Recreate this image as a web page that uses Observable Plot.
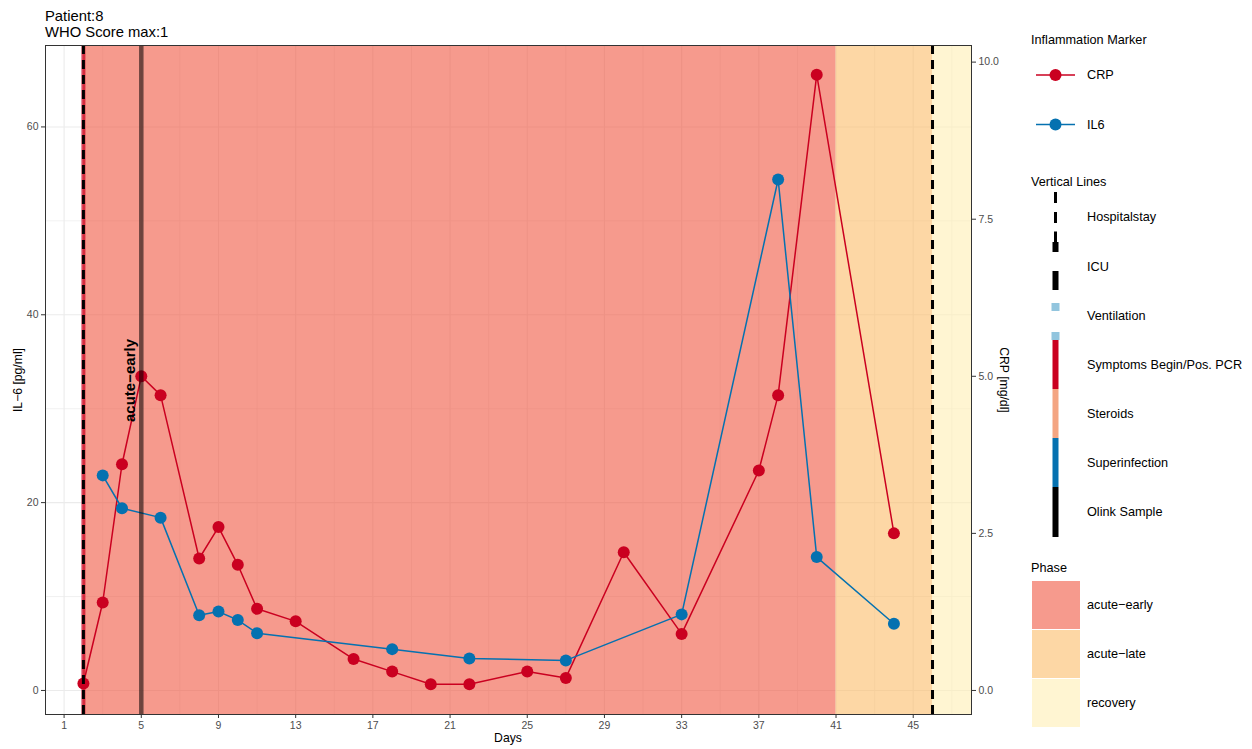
<!DOCTYPE html>
<html><head><meta charset="utf-8">
<script src="https://cdn.jsdelivr.net/npm/d3@7"></script>
<script src="https://cdn.jsdelivr.net/npm/@observablehq/plot@0.6"></script>
<style>
body{margin:0;background:#fff;}
#wrap{position:relative;width:1252px;height:749px;font-family:"Liberation Sans",Arial,Helvetica,sans-serif;background:#fff;overflow:hidden;}
#wrap svg{position:absolute;left:0;top:0;}
</style></head><body><div id="wrap"></div>
<script>
// ---- data ----
const crpDays   = [2, 3, 4, 5, 6, 8, 9, 10, 11, 13, 16, 18, 20, 22, 25, 27, 30, 33, 37, 38, 40, 44];
const crpValues = [0.11, 1.40, 3.60, 5.00, 4.70, 2.10, 2.60, 2.00, 1.30, 1.10, 0.50, 0.30, 0.10, 0.10, 0.30, 0.20, 2.20, 0.90, 3.50, 4.70, 9.80, 2.50];
const il6Days   = [3, 4, 6, 8, 9, 10, 11, 18, 22, 27, 33, 38, 40, 44];
const il6Values = [22.9, 19.4, 18.4, 8.0, 8.4, 7.5, 6.1, 4.4, 3.4, 3.2, 8.1, 54.4, 14.2, 7.1];
const phaseNames  = ["acute−early", "acute−late", "recovery"];
const phaseStart  = [2, 41, 46];
const phaseEnd    = [41, 46, 48.02];
const phaseColors = ["#F05741", "#FCBC69", "#FFEEB4"];
const symptomDays = [2];
const hospitalDays = [2, 46];
const olinkDays = [5];
const phaseLabel = [{day: 4.45, value: 33.0, text: "acute−early"}];
const xTicks = [1, 5, 9, 13, 17, 21, 25, 29, 33, 37, 41, 45];
const xMinor = [3, 7, 11, 15, 19, 23, 27, 31, 35, 39, 43, 47];
const yTicks = [0, 20, 40, 60];
const yMinor = [10, 30, 50];
const crpTicks = [0, 2.5, 5, 7.5, 10];
const CRP_SCALE = 6.69; // CRP drawn on IL-6 axis
const xDomain = [0.036, 48.02];
const yDomain = [-2.56, 68.67];

const crpData = crpDays.map((d, i) => ({day: d, value: crpValues[i] * CRP_SCALE}));
const il6Data = il6Days.map((d, i) => ({day: d, value: il6Values[i]}));
const phases = phaseNames.map((n, i) => ({name: n, start: phaseStart[i], end: phaseEnd[i], color: phaseColors[i]}));

const RED = "#CA0020", BLUE = "#0571B0";
const FONT = '"Liberation Sans", Arial, Helvetica, sans-serif';

const chart = Plot.plot({
  width: 1020, height: 749,
  marginTop: 45, marginBottom: 35, marginLeft: 45, marginRight: 49,
  style: {fontFamily: FONT, fontSize: "10.5px", background: "transparent"},
  x: {domain: xDomain},
  y: {domain: yDomain},
  color: {type: "identity"},
  marks: [
    Plot.ruleX(xTicks, {stroke: "#ebebeb", strokeWidth: 1.1}),
    Plot.ruleX(xMinor, {stroke: "#ebebeb", strokeWidth: 0.7}),
    Plot.ruleY(yTicks, {stroke: "#ebebeb", strokeWidth: 1.1}),
    Plot.ruleY(yMinor, {stroke: "#ebebeb", strokeWidth: 0.7}),
    Plot.rect(phases, {x1: "start", x2: "end", fill: "color", fillOpacity: 0.6}),
    Plot.line(crpData, {x: "day", y: "value", stroke: RED, strokeWidth: 1.5}),
    Plot.dot(crpData, {x: "day", y: "value", r: 6, fill: RED}),
    Plot.line(il6Data, {x: "day", y: "value", stroke: BLUE, strokeWidth: 1.5}),
    Plot.dot(il6Data, {x: "day", y: "value", r: 6, fill: BLUE}),
    Plot.ruleX(symptomDays, {stroke: RED, strokeOpacity: 0.72, strokeWidth: 4}),
    Plot.ruleX(hospitalDays, {stroke: "black", strokeWidth: 3, strokeDasharray: "9,6"}),
    Plot.ruleX(olinkDays, {stroke: "black", strokeOpacity: 0.55, strokeWidth: 4.5}),
    Plot.text(phaseLabel, {x: "day", y: "value", text: "text", rotate: -90, fontWeight: "bold", fontSize: 15, fill: "black"}),
    Plot.frame({stroke: "#333", strokeWidth: 1}),
    Plot.axisX(xTicks, {anchor: "bottom", tickSize: 4, tickPadding: 3, label: null, stroke: "#333", fill: "#4d4d4d"}),
    Plot.axisY(yTicks, {anchor: "left", tickSize: 4, tickPadding: 3, label: null, stroke: "#333", fill: "#4d4d4d"}),
    Plot.axisY(crpTicks.map(v => v * CRP_SCALE), {anchor: "right", tickSize: 4, tickPadding: 3, label: null, stroke: "#333", fill: "#4d4d4d",
      tickFormat: d => (d / CRP_SCALE).toFixed(1)})
  ]
});
const wrap = document.getElementById("wrap");
wrap.appendChild(chart);

// ---- overlay: titles, axis titles, legends ----
const svg = d3.create("svg").attr("width", 1252).attr("height", 749)
  .style("font-family", FONT).style("pointer-events", "none");
const T = (x, y, s, size, opts = {}) => {
  const t = svg.append("text").attr("x", x).attr("y", y).text(s)
    .attr("font-size", size).attr("fill", opts.fill || "black");
  if (opts.anchor) t.attr("text-anchor", opts.anchor);
  if (opts.baseline) t.attr("dominant-baseline", opts.baseline);
  if (opts.transform) t.attr("transform", opts.transform).attr("x", 0).attr("y", 0);
  return t;
};
T(45, 20.5, "Patient:8", 14.8);
T(45, 36.5, "WHO Score max:1", 14.8);
T(508, 742, "Days", 12.2, {anchor: "middle"});
T(0, 0, "IL−6 [pg/ml]", 12.2, {anchor: "middle", transform: "translate(22,380) rotate(-90)"});
T(0, 0, "CRP [mg/dl]", 12.2, {anchor: "middle", transform: "translate(1000,380) rotate(90)"});

const LF = 12.7;
// Inflammation Marker
T(1031, 43.5, "Inflammation Marker", LF);
[[75, RED, "CRP"], [124.5, BLUE, "IL6"]].forEach(([y, c, s]) => {
  svg.append("line").attr("x1", 1036).attr("x2", 1075).attr("y1", y).attr("y2", y).attr("stroke", c).attr("stroke-width", 1.5);
  svg.append("circle").attr("cx", 1055.5).attr("cy", y).attr("r", 6).attr("fill", c);
  T(1087, y, s, LF, {baseline: "central"});
});
// Vertical Lines
T(1031, 185.5, "Vertical Lines", LF);
const seg = (y1, y2, w, c) => svg.append("rect").attr("x", 1055.5 - w / 2).attr("width", w)
  .attr("y", y1).attr("height", y2 - y1).attr("fill", c);
seg(192, 203, 3, "black"); seg(212, 223, 3, "black"); seg(231.5, 242, 3, "black");
seg(242, 252, 6, "black"); seg(271, 290, 6, "black");
seg(303, 311, 8, "#92C5DE"); seg(332, 340, 8, "#92C5DE");
seg(340, 389, 6, RED); seg(389, 438, 6, "#F4A582"); seg(438, 487, 6, BLUE); seg(487, 537, 6, "black");
[["Hospitalstay", 217], ["ICU", 267], ["Ventilation", 316], ["Symptoms Begin/Pos. PCR", 365],
 ["Steroids", 414], ["Superinfection", 463], ["Olink Sample", 512]].forEach(([s, y]) => T(1087, y, s, LF, {baseline: "central"}));
// Phase
T(1031, 572, "Phase", LF);
phaseNames.forEach((n, i) => {
  const y0 = 581 + i * 49;
  svg.append("rect").attr("x", 1032).attr("y", y0).attr("width", 48).attr("height", 48)
    .attr("fill", phaseColors[i]).attr("fill-opacity", 0.6);
  T(1087, y0 + 24, n, LF, {baseline: "central"});
});
wrap.appendChild(svg.node());
</script></body></html>
